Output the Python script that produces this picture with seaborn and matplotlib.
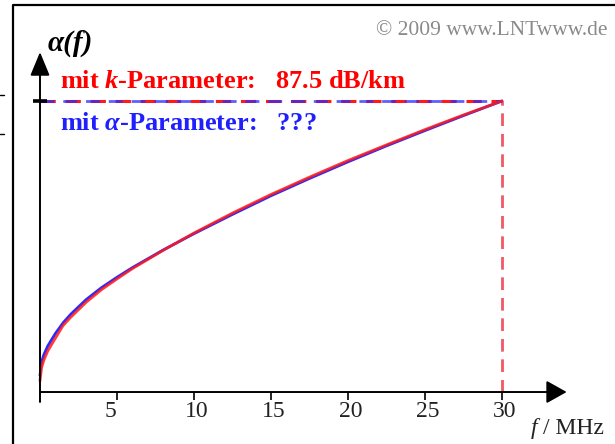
import matplotlib
matplotlib.use("Agg")
import matplotlib.pyplot as plt
import seaborn as sns
import pandas as pd
from matplotlib.lines import Line2D

# values (dB/km over MHz)
freq_mhz = [0, 0.1, 0.25, 0.5, 1, 1.5, 2, 3, 4, 5, 6, 8, 10, 12.5, 15, 17.5, 20, 22.5, 25, 27.5, 30]
alpha_k = [3.3, 7.3, 9.6, 12.3, 16.2, 20.0, 22.5, 27.0, 30.8, 34.0, 37.1, 42.6, 47.8, 53.8, 59.4,
           64.6, 69.6, 74.3, 78.9, 83.3, 87.5]
alpha_a = [5.0, 9.0, 11.2, 13.8, 17.6, 20.8, 23.4, 27.8, 31.4, 34.5, 37.4, 42.7, 47.6, 53.4, 59.0,
           64.2, 69.2, 74.0, 78.6, 83.1, 87.5]
x_ticks = [5, 10, 15, 20, 25, 30]
f_max = 30
alpha_max = 87.5

RED = "#ff1a1a"
BLUE = "#2a2aff"

sns.set_style("white")
plt.rcParams["font.family"] = ["Liberation Serif", "DejaVu Serif"]
plt.rcParams["mathtext.fontset"] = "custom"
plt.rcParams["mathtext.it"] = "Liberation Serif:italic:bold"
plt.rcParams["mathtext.rm"] = "Liberation Serif:bold"

df_k = pd.DataFrame({"f": freq_mhz, "alpha": alpha_k})
df_a = pd.DataFrame({"f": freq_mhz, "alpha": alpha_a})

W, H = 615, 444
fig = plt.figure(figsize=(W / 100, H / 100), dpi=100)
ax = fig.add_axes([0, 0, 1, 1])
ax.set_xlim(-2.597, 37.34)
ax.set_ylim(-15.63, 117.86)
ax.axis("off")


def fx(px):
    return px / W


def fy(py):
    return 1 - py / H


# curves
sns.lineplot(data=df_a, x="f", y="alpha", color=BLUE, lw=2.0, ax=ax, sort=False, zorder=3)
sns.lineplot(data=df_k, x="f", y="alpha", color=RED, lw=2.0, alpha=0.85, ax=ax, sort=False, zorder=4)

# dashed guide lines
ax.plot([0, f_max], [alpha_max, alpha_max], color=RED, lw=2.2, dashes=(5, 3.2), zorder=2)
ax.plot([0, f_max], [alpha_max, alpha_max], color=BLUE, lw=2.0, alpha=0.75, dashes=(5, 3.2), zorder=2)
ax.plot([f_max, f_max], [0, alpha_max], color=BLUE, lw=1.8, alpha=0.5, dashes=(5, 3.2), zorder=2)
ax.plot([f_max, f_max], [0, alpha_max], color="#ff5555", lw=1.8, dashes=(5, 3.2), zorder=2)

# axes with arrows
ax.annotate("", xy=(0, 102.2), xytext=(0, -3.0),
            arrowprops=dict(arrowstyle="-|>,head_length=1.45,head_width=0.6", mutation_scale=10,
                            lw=1.4, color="black", shrinkA=0, shrinkB=0), zorder=5)
ax.annotate("", xy=(34.2, 0), xytext=(0, 0),
            arrowprops=dict(arrowstyle="-|>,head_length=1.25,head_width=0.7", mutation_scale=10,
                            lw=1.4, color="black", shrinkA=0, shrinkB=0), zorder=5)
ax.vlines(x_ticks, -2.4, 0, color="black", lw=1.2, zorder=5)
ax.hlines(alpha_max, -0.45, 0.45, color="black", lw=2.6, zorder=5)

for t in x_ticks:
    off = -0.4 if t < 10 else 0.2
    ax.text(t + off, -6.0, str(t), ha="center", va="center", fontsize=17, color="#222222")

# texts
fig.text(fx(48), fy(51), "α(f)", fontsize=21, fontweight="bold", fontstyle="italic", color="black")
fig.text(fx(60), fy(88), "mit $k$-Parameter:   87.5 dB/km", fontsize=19, fontweight="bold", color="#ff0000")
fig.text(fx(60), fy(130), r"mit $\alpha$-Parameter:   ???", fontsize=19, fontweight="bold", color="#2020ff")
fig.text(fx(608), fy(35), "© 2009 www.LNTwww.de", ha="right", fontsize=15.5, color="#8a8a8a")
fig.text(fx(531), fy(434), "f", fontsize=17, fontstyle="italic", color="#222222")
fig.text(fx(543), fy(434), "/ MHz", fontsize=17, color="#222222")

# frame and marks
fig.add_artist(Line2D([fx(12.7), fx(12.7), 1], [0, fy(5), fy(5)], transform=fig.transFigure,
                      color="black", lw=1.6))
for py in (95, 134):
    fig.add_artist(Line2D([0, fx(4)], [fy(py), fy(py)], transform=fig.transFigure, color="black", lw=1))

fig.savefig("out.png", dpi=100)
